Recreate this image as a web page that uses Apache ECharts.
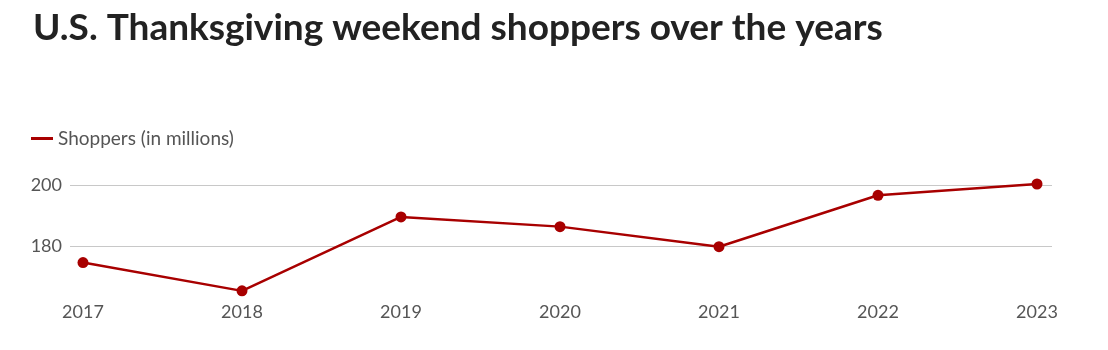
<!DOCTYPE html>
<html>
<head>
<meta charset="utf-8">
<script src="https://cdn.jsdelivr.net/npm/echarts@6/dist/echarts.min.js"></script>
<style>
html,body{margin:0;padding:0;background:#fff;}
#c{width:1108px;height:350px;}
</style>
</head>
<body>
<div id="c"></div>
<script>
const years = [2017, 2018, 2019, 2020, 2021, 2022, 2023];
const shoppers = [174.6, 165.3, 189.6, 186.4, 179.8, 196.7, 200.4];
const yTicks = [180, 200];
const seriesName = 'Shoppers (in millions)';
const titleText = 'U.S. Thanksgiving weekend shoppers over the years';

const chart = echarts.init(document.getElementById('c'), null, {renderer: 'canvas'});
const FONT = '"Source Sans Pro", Lato, "Noto Sans", sans-serif';
chart.setOption({
  animation: false,
  backgroundColor: '#fff',
  title: {
    text: titleText,
    left: 28, top: 5,
    textStyle: {fontFamily: FONT, fontWeight: 'bold', fontSize: 37, color: '#222'}
  },
  legend: {
    left: 26, top: 124,
    itemWidth: 22, itemHeight: 3, itemGap: 8,
    icon: 'rect',
    textStyle: {fontFamily: FONT, fontSize: 19, color: '#555'},
    data: [{name: seriesName, icon: 'rect'}]
  },
  grid: {left: 70, right: 56, top: 170, bottom: 43, containLabel: false},
  xAxis: {
    type: 'value',
    min: 2017 - 13/159,
    max: 2023 + 15/159,
    axisLine: {show: false},
    axisTick: {show: false},
    splitLine: {show: false},
    axisLabel: {
      customValues: years,
      formatter: v => String(Math.round(v)),
      color: '#555', fontFamily: FONT, fontSize: 18, margin: -4
    }
  },
  yAxis: {
    type: 'value',
    min: 160, max: 205, interval: 20,
    axisLine: {show: false},
    axisTick: {show: false},
    axisLabel: {
      showMinLabel: false,
      showMaxLabel: false,
      formatter: v => yTicks.includes(v) ? String(v) : '',
      color: '#555', fontFamily: FONT, fontSize: 18, margin: 8
    },
    splitLine: {show: true, showMinLine: false, showMaxLine: false, lineStyle: {color: '#c8c8c8', width: 1}}
  },
  series: [{
    name: seriesName,
    type: 'line',
    data: years.map((y, i) => [y, shoppers[i]]),
    symbol: 'circle',
    symbolSize: 11,
    lineStyle: {color: '#a80000', width: 2.5},
    itemStyle: {color: '#a80000'}
  }]
});
</script>
</body>
</html>
